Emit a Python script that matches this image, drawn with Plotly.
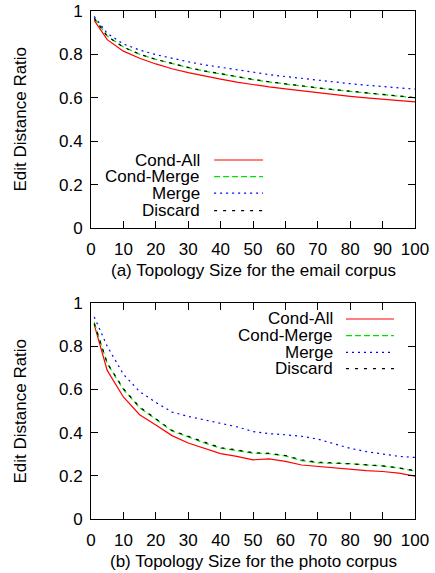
import plotly.graph_objects as go

# ---------------- data ----------------
x_email = [1, 5, 10, 15, 20, 25, 30, 35, 40, 45, 50, 55, 60, 65, 70, 75, 80, 85, 90, 95, 100]
email_cond_all = [0.957, 0.868, 0.815, 0.782, 0.756, 0.734, 0.716, 0.700, 0.686, 0.672, 0.660, 0.650, 0.641, 0.632, 0.623, 0.615, 0.607, 0.600, 0.594, 0.588, 0.581]
email_cond_merge = [0.968, 0.885, 0.834, 0.801, 0.777, 0.757, 0.739, 0.723, 0.709, 0.696, 0.684, 0.673, 0.663, 0.654, 0.645, 0.637, 0.629, 0.621, 0.614, 0.607, 0.600]
email_merge = [0.975, 0.897, 0.848, 0.820, 0.799, 0.781, 0.766, 0.752, 0.740, 0.728, 0.717, 0.707, 0.698, 0.689, 0.680, 0.672, 0.665, 0.658, 0.652, 0.646, 0.640]
email_discard = [0.966, 0.884, 0.833, 0.801, 0.777, 0.757, 0.740, 0.724, 0.710, 0.697, 0.685, 0.674, 0.664, 0.655, 0.646, 0.638, 0.630, 0.622, 0.615, 0.608, 0.601]

x_photo = [1, 5, 10, 15, 20, 25, 30, 35, 40, 45, 50, 55, 60, 65, 70, 75, 80, 85, 90, 95, 100]
photo_cond_all = [0.900, 0.688, 0.565, 0.483, 0.435, 0.386, 0.352, 0.327, 0.303, 0.290, 0.274, 0.278, 0.267, 0.250, 0.243, 0.236, 0.228, 0.224, 0.220, 0.212, 0.198]
photo_cond_merge = [0.910, 0.720, 0.600, 0.515, 0.462, 0.408, 0.380, 0.352, 0.328, 0.318, 0.305, 0.302, 0.292, 0.270, 0.260, 0.258, 0.256, 0.250, 0.245, 0.236, 0.222]
photo_merge = [0.935, 0.800, 0.670, 0.590, 0.540, 0.495, 0.475, 0.460, 0.445, 0.427, 0.405, 0.395, 0.390, 0.383, 0.370, 0.350, 0.327, 0.312, 0.300, 0.290, 0.285]
photo_discard = [0.905, 0.722, 0.603, 0.518, 0.464, 0.410, 0.383, 0.355, 0.330, 0.320, 0.307, 0.304, 0.294, 0.274, 0.263, 0.260, 0.257, 0.251, 0.246, 0.237, 0.224]

series_names = ["Cond-All", "Cond-Merge", "Merge", "Discard"]
x_ticks = [0, 10, 20, 30, 40, 50, 60, 70, 80, 90, 100]
y_ticks = [0, 0.2, 0.4, 0.6, 0.8, 1]
y_tick_text = ["0", "0.2", "0.4", "0.6", "0.8", "1"]
titles = ["(a) Topology Size for the email corpus", "(b) Topology Size for the photo corpus"]
y_title = "Edit Distance Ratio"

# ---------------- style ----------------
FONT = "Liberation Sans, Arial, Helvetica, sans-serif"
FS = 17
styles = [
    dict(color="#ff0000", dash="solid", width=1.2),
    dict(color="#00e000", dash="6px,3px", width=1.2),
    dict(color="#0000ff", dash="2px,4px", width=1.2),
    dict(color="#000000", dash="3px,6px", width=1.2),
]

fig = go.Figure()
email = [email_cond_all, email_cond_merge, email_merge, email_discard]
photo = [photo_cond_all, photo_cond_merge, photo_merge, photo_discard]

for name, ys, st in zip(series_names, email, styles):
    fig.add_trace(go.Scatter(x=x_email, y=ys, mode="lines", name=name, line=st,
                             xaxis="x", yaxis="y", showlegend=False))
for name, ys, st in zip(series_names, photo, styles):
    fig.add_trace(go.Scatter(x=x_photo, y=ys, mode="lines", name=name, line=st,
                             xaxis="x2", yaxis="y2", showlegend=False))

axis_common = dict(
    showline=True, linecolor="black", linewidth=1, mirror="ticks",
    ticks="inside", ticklen=7, tickcolor="black", tickwidth=1,
    showgrid=False, zeroline=False, automargin=False,
    ticklabeloverflow="allow",
    tickfont=dict(family=FONT, size=FS, color="black"),
)
xcommon = dict(axis_common, range=[0, 100], tickvals=x_ticks, ticklabelstandoff=6)
ycommon = dict(axis_common, range=[0, 1], tickvals=y_ticks, ticktext=y_tick_text, ticklabelstandoff=4)

top_dom = [0.5728, 1.0]
bot_dom = [0.0, 0.4252]

fig.update_layout(
    width=435, height=573,
    margin=dict(l=91, r=20, t=11, b=54),
    paper_bgcolor="white", plot_bgcolor="white",
    font=dict(family=FONT, size=FS, color="black"),
    xaxis=dict(xcommon, anchor="y", domain=[0, 1]),
    yaxis=dict(ycommon, anchor="x", domain=top_dom),
    xaxis2=dict(xcommon, anchor="y2", domain=[0, 1]),
    yaxis2=dict(ycommon, anchor="x2", domain=bot_dom),
)

# axis titles as annotations (paper coords; py = target page pixel)
for text, py in zip(titles, [270, 561.5]):
    fig.add_annotation(xref="paper", yref="paper", x=0.5, y=(519 - py) / 508,
                       text=text, showarrow=False, xanchor="center", yanchor="middle",
                       font=dict(family=FONT, size=FS, color="black"))
for py in [119.5, 411.5]:
    fig.add_annotation(xref="paper", yref="paper", x=(20 - 91) / 324, y=(519 - py) / 508,
                       text=y_title, showarrow=False, textangle=-90,
                       xanchor="center", yanchor="middle",
                       font=dict(family=FONT, size=FS, color="black"))

# ---------------- manual gnuplot-style legends ----------------
legends = [
    dict(xref="x domain", yref="y domain", tx=0.3426, x0=0.380, x1=0.531,
         rows=[0.3134, 0.2364, 0.161, 0.0797]),
    dict(xref="x2 domain", yref="y2 domain", tx=0.753, x0=0.787, x1=0.935,
         rows=[0.926, 0.8486, 0.771, 0.696]),
]
for lg in legends:
    for name, st, ry in zip(series_names, styles, lg["rows"]):
        fig.add_annotation(xref=lg["xref"], yref=lg["yref"], x=lg["tx"], y=ry,
                           text=name, showarrow=False, xanchor="right", yanchor="middle",
                           font=dict(family=FONT, size=FS, color="black"))
        fig.add_shape(type="line", xref=lg["xref"], yref=lg["yref"],
                      x0=lg["x0"], x1=lg["x1"], y0=ry, y1=ry, line=st)

# remove the default 8px page margin so the figure fills the window exactly
fig.write_html("out.html", config={"displayModeBar": False},
               post_script="document.body.style.margin='0px';")
